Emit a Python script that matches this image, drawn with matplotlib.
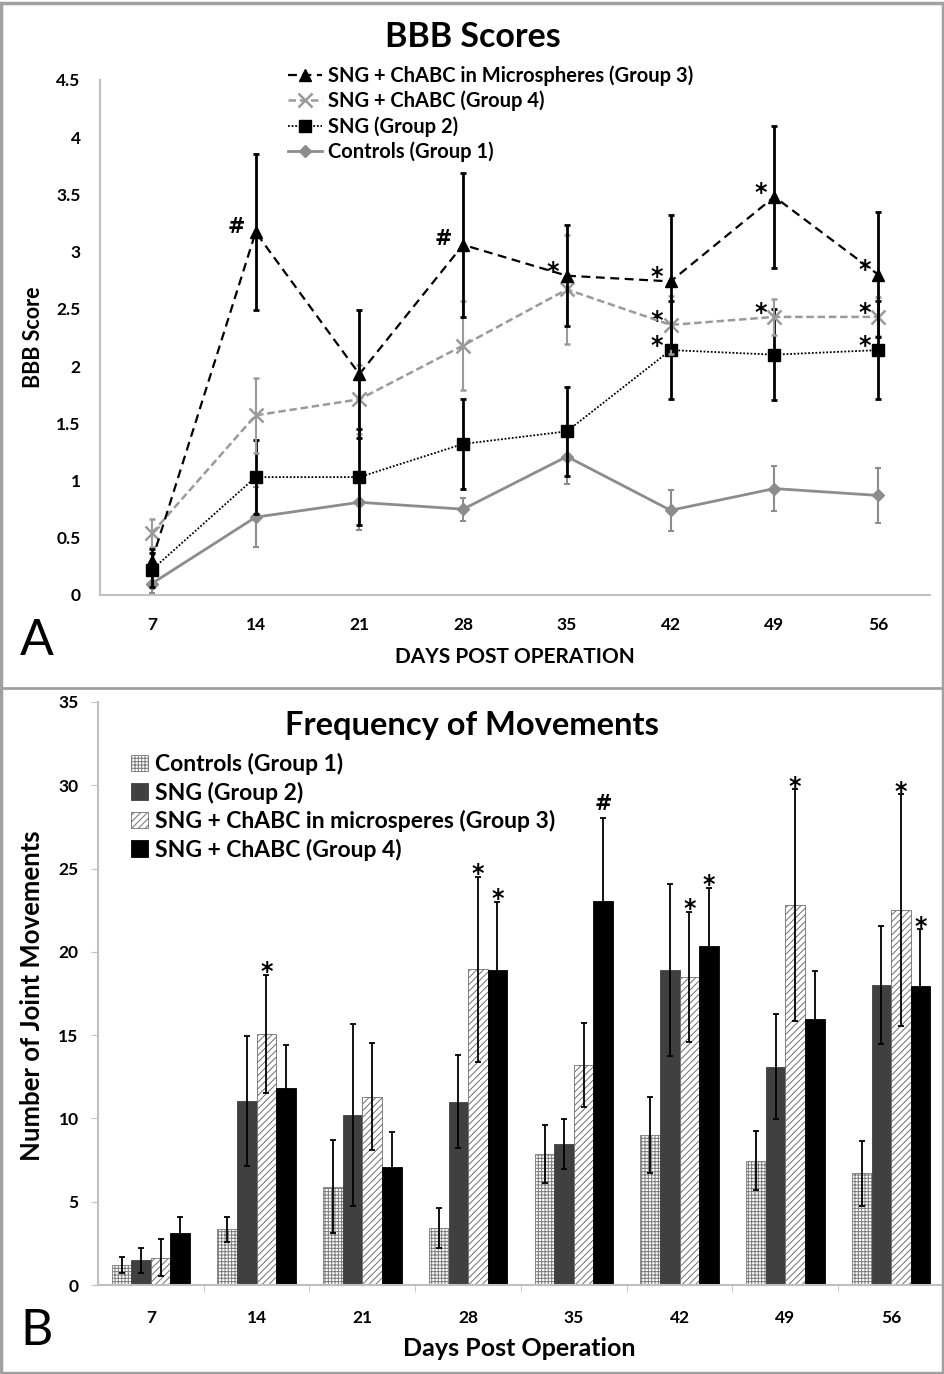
import numpy as np
import matplotlib.pyplot as plt
from matplotlib.lines import Line2D
from matplotlib.patches import Rectangle, Patch

plt.rcParams['font.family'] = ['Lato', 'DejaVu Sans']
plt.rcParams['hatch.linewidth'] = 0.7

# datos comunes
dias = [7, 14, 21, 28, 35, 42, 49, 56]

# panel A: BBB
bbb_g3 = [0.30, 3.17, 1.93, 3.06, 2.79, 2.74, 3.48, 2.80]
bbb_g3_err = [0.10, 0.68, 0.56, 0.63, 0.44, 0.58, 0.62, 0.55]
bbb_g4 = [0.54, 1.57, 1.71, 2.18, 2.67, 2.36, 2.43, 2.43]
bbb_g4_err = [0.12, 0.33, 0.30, 0.39, 0.48, 0.25, 0.16, 0.17]
bbb_g2 = [0.22, 1.03, 1.03, 1.32, 1.43, 2.14, 2.10, 2.14]
bbb_g2_err = [0.15, 0.32, 0.42, 0.39, 0.39, 0.43, 0.40, 0.43]
bbb_g1 = [0.10, 0.68, 0.81, 0.75, 1.21, 0.74, 0.93, 0.87]
bbb_g1_err = [0.08, 0.26, 0.24, 0.10, 0.24, 0.18, 0.20, 0.24]
sig_a_g3 = ['', '#', '', '#', '*', '*', '*', '*']
sig_a_g4 = ['', '', '', '', '', '*', '*', '*']
sig_a_g2 = ['', '', '', '', '', '*', '', '*']

# panel B: movimientos
mov_g1 = [1.2, 3.35, 5.9, 3.4, 7.85, 9.0, 7.45, 6.7]
mov_g1_err = [0.5, 0.75, 2.8, 1.2, 1.75, 2.3, 1.77, 1.95]
mov_g2 = [1.5, 11.05, 10.2, 11.0, 8.45, 18.9, 13.1, 18.0]
mov_g2_err = [0.75, 3.9, 5.45, 2.8, 1.5, 5.15, 3.15, 3.55]
mov_g3 = [1.65, 15.05, 11.3, 18.95, 13.2, 18.5, 22.8, 22.5]
mov_g3_err = [1.1, 3.55, 3.2, 5.55, 2.5, 3.9, 6.95, 6.95]
mov_g4 = [3.1, 11.8, 7.1, 18.9, 23.05, 20.35, 15.95, 17.95]
mov_g4_err = [1.0, 2.6, 2.1, 4.1, 5.0, 3.5, 2.9, 3.4]
sig_b_g3 = ['', '*', '', '*', '', '*', '*', '*']
sig_b_g4 = ['', '', '', '*', '#', '*', '', '*']

W, H = 945, 1374
fig = plt.figure(figsize=(W / 100, H / 100), dpi=100)


def fx(px):
    return px / W


def fy(py):
    return 1 - py / H


gris_eje = '#c0c0c0'
gris = '#8c8c8c'
x = np.arange(len(dias))
fuente_sig = ['DejaVu Sans']

# ---------------- panel A ----------------
ax1 = fig.add_axes([fx(100), fy(595), fx(930) - fx(100), fy(80) - fy(595)])

ax1.errorbar(x, bbb_g1, yerr=bbb_g1_err, color=gris, lw=2, marker='D', ms=6,
             ecolor=gris, elinewidth=1.5, capsize=2, capthick=1.5, zorder=2)
ax1.errorbar(x, bbb_g2, yerr=bbb_g2_err, color='black', lw=1.3, dashes=(1, 1),
             marker='s', ms=8, ecolor='black', elinewidth=2, capsize=2,
             capthick=2, zorder=3)
ax1.errorbar(x, bbb_g4, yerr=bbb_g4_err, color='#9a9a9a', lw=1.8, dashes=(3, 1.5),
             marker='x', ms=10, mew=1.8, ecolor='#9a9a9a', elinewidth=1.5,
             capsize=2, capthick=1.5, zorder=4)
ax1.errorbar(x, bbb_g3, yerr=bbb_g3_err, color='black', lw=1.6, dashes=(4, 2.5),
             marker='^', ms=9, ecolor='black', elinewidth=2, capsize=2,
             capthick=2, zorder=5)

for serie, sig in [(bbb_g3, sig_a_g3), (bbb_g4, sig_a_g4), (bbb_g2, sig_a_g2)]:
    for i, s in enumerate(sig):
        if s == '*':
            ax1.annotate(s, (x[i], serie[i]), xytext=(-10, 3), textcoords='offset points',
                         ha='center', va='center', fontsize=17, fontweight='bold',
                         family=fuente_sig)
        elif s:
            ax1.annotate(s, (x[i], serie[i]), xytext=(-14, 4), textcoords='offset points',
                         ha='center', va='center', fontsize=15, fontweight='bold',
                         family=fuente_sig)

ax1.set_xlim(-0.5, 7.5)
ax1.set_ylim(0, 4.5)
ax1.set_yticks(np.arange(0, 4.51, 0.5))
ax1.set_yticklabels(['{:g}'.format(v) for v in np.arange(0, 4.51, 0.5)])
ax1.set_xticks(x)
ax1.set_xticklabels([str(d) for d in dias])
ax1.tick_params(axis='both', length=0, labelsize=12.5)
ax1.tick_params(axis='y', pad=14)
ax1.tick_params(axis='x', pad=16)
for lab in ax1.get_xticklabels() + ax1.get_yticklabels():
    lab.set_fontweight('bold')
for lado in ['top', 'right']:
    ax1.spines[lado].set_visible(False)
for lado in ['left', 'bottom']:
    ax1.spines[lado].set_color(gris_eje)
    ax1.spines[lado].set_linewidth(1.5)

h_a = [
    Line2D([], [], color='black', lw=1.6, dashes=(4, 2.5), marker='^', ms=9),
    Line2D([], [], color='#9a9a9a', lw=1.8, dashes=(3, 1.5), marker='x', ms=10, mew=1.8),
    Line2D([], [], color='black', lw=1.3, dashes=(1, 1), marker='s', ms=8),
    Line2D([], [], color=gris, lw=2, marker='D', ms=6),
]
l_a = ['SNG + ChABC in Microspheres (Group 3)', 'SNG + ChABC (Group 4)',
       'SNG (Group 2)', 'Controls (Group 1)']
ax1.legend(h_a, l_a, loc='upper left', bbox_to_anchor=(fx(288), fy(65)),
           bbox_transform=fig.transFigure, frameon=False, borderpad=0,
           borderaxespad=0, handlelength=1.7, handletextpad=0.3,
           labelspacing=0.25, prop={'size': 14.5, 'weight': 'bold'})

fig.text(fx(473), fy(37), 'BBB Scores', ha='center', va='center',
         fontsize=24.5, fontweight='bold')
fig.text(fx(33), fy(337), 'BBB Score', ha='center', va='center', rotation=90,
         fontsize=15.5, fontweight='bold')
fig.text(fx(515), fy(657), 'DAYS POST OPERATION', ha='center', va='center',
         fontsize=15, fontweight='bold')
fig.text(fx(20), fy(655), 'A', ha='left', va='baseline', fontsize=36)

# ---------------- panel B ----------------
ax2 = fig.add_axes([fx(98), fy(1285), fx(944) - fx(98), fy(702) - fy(1285)])

ancho = 0.185
series_b = [
    (mov_g1, mov_g1_err, dict(color='white', edgecolor='#7a7a7a', hatch='+++++', lw=0.6)),
    (mov_g2, mov_g2_err, dict(color='#404040', edgecolor='#404040', lw=0.6)),
    (mov_g3, mov_g3_err, dict(color='white', edgecolor='#6e6e6e', hatch='/////', lw=0.6)),
    (mov_g4, mov_g4_err, dict(color='black', edgecolor='black', lw=0.6)),
]
for k, (vals, errs, estilo) in enumerate(series_b):
    pos = x + (k - 1.5) * ancho
    ax2.bar(pos, vals, ancho, zorder=2, **estilo)
    ax2.errorbar(pos, vals, yerr=errs, fmt='none', ecolor='black', elinewidth=1.3,
                 capsize=2.5, capthick=1.3, zorder=3)

for k, (vals, errs, sig) in enumerate([(mov_g3, mov_g3_err, sig_b_g3),
                                       (mov_g4, mov_g4_err, sig_b_g4)]):
    for i, s in enumerate(sig):
        if s == '*':
            ax2.annotate(s, (x[i] + (k + 0.5) * ancho, vals[i] + errs[i]),
                         xytext=(0, 2), textcoords='offset points',
                         ha='center', va='center', fontsize=17, fontweight='bold',
                         family=fuente_sig)
        elif s:
            ax2.annotate(s, (x[i] + (k + 0.5) * ancho, vals[i] + errs[i]),
                         xytext=(0, 10), textcoords='offset points',
                         ha='center', va='center', fontsize=15, fontweight='bold',
                         family=fuente_sig)

ax2.set_xlim(-0.5, 7.5)
ax2.set_ylim(0, 35)
ax2.set_yticks(np.arange(0, 36, 5))
ax2.set_xticks(x)
ax2.set_xticklabels([str(d) for d in dias])
ax2.set_xticks(np.arange(0.5, 7, 1), minor=True)
ax2.tick_params(axis='x', which='major', length=0, pad=18, labelsize=12.5)
ax2.tick_params(axis='x', which='minor', length=5, color=gris_eje, direction='out')
ax2.tick_params(axis='y', length=5, color=gris_eje, pad=9, labelsize=12.5)
for lab in ax2.get_xticklabels() + ax2.get_yticklabels():
    lab.set_fontweight('bold')
for lado in ['top', 'right']:
    ax2.spines[lado].set_visible(False)
for lado in ['left', 'bottom']:
    ax2.spines[lado].set_color(gris_eje)
    ax2.spines[lado].set_linewidth(1.5)

h_b = [Patch(facecolor=s[2]['color'], edgecolor=s[2]['edgecolor'],
             hatch=s[2].get('hatch'), lw=0.6) for s in series_b]
l_b = ['Controls (Group 1)', 'SNG (Group 2)',
       'SNG + ChABC in microsperes (Group 3)', 'SNG + ChABC (Group 4)']
ax2.legend(h_b, l_b, loc='upper left', bbox_to_anchor=(fx(131), fy(753)),
           bbox_transform=fig.transFigure, frameon=False, borderpad=0,
           borderaxespad=0, handlelength=0.75, handleheight=0.75, handletextpad=0.3,
           labelspacing=0.28, prop={'size': 16.5, 'weight': 'bold'})

fig.text(fx(472), fy(725), 'Frequency of Movements', ha='center', va='center',
         fontsize=23.5, fontweight='bold')
fig.text(fx(32), fy(996), 'Number of Joint Movements', ha='center', va='center',
         rotation=90, fontsize=18.5, fontweight='bold')
fig.text(fx(519), fy(1348), 'Days Post Operation', ha='center', va='center',
         fontsize=18, fontweight='bold')
fig.text(fx(20), fy(1345), 'B', ha='left', va='baseline', fontsize=36)

# marcos
fig.add_artist(Rectangle((0.001, 0.001), 0.997, 0.997, transform=fig.transFigure,
                         fill=False, edgecolor='#a0a0a0', lw=2.5))
fig.add_artist(Line2D([0, 1], [fy(688), fy(688)], transform=fig.transFigure,
                      color='#a0a0a0', lw=2))

fig.savefig('out.png', dpi=100)
